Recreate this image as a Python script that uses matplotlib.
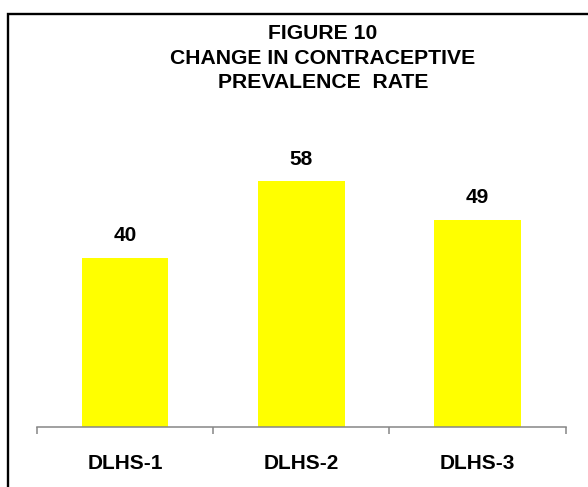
import matplotlib
matplotlib.use("Agg")
import matplotlib.pyplot as plt
from matplotlib.patches import Rectangle

# Chart data
surveys = ["DLHS-1", "DLHS-2", "DLHS-3"]
cpr_values = [40, 58, 49]
title_lines = ["FIGURE 10", "CHANGE IN CONTRACEPTIVE", "PREVALENCE  RATE"]

plt.rcParams["font.family"] = ["Liberation Sans", "DejaVu Sans"]
plt.rcParams["font.weight"] = "bold"

fig = plt.figure(figsize=(5.88, 4.87), dpi=100)
ax = fig.add_axes([0.0624, 0.1226, 0.900, 0.6094])

x = list(range(len(surveys)))
bars = ax.bar(x, cpr_values, width=0.49, color="#FFFF00", edgecolor="none")

ax.set_xlim(-0.5, len(surveys) - 0.5)
ax.set_ylim(0, 70)

# only the bottom axis line is shown
for side in ["left", "right", "top"]:
    ax.spines[side].set_visible(False)
ax.spines["bottom"].set_color("#868686")
ax.spines["bottom"].set_linewidth(1.1)
ax.set_yticks([])

# tick marks between categories, labels at the category centres
ax.set_xticks([i - 0.5 for i in range(len(surveys) + 1)])
ax.set_xticklabels([])
ax.tick_params(axis="x", which="major", length=5, width=1.1, color="#868686")
ax.set_xticks(x, minor=True)
ax.set_xticklabels(surveys, minor=True, fontsize=15, fontweight="bold")
ax.tick_params(axis="x", which="minor", length=0, pad=19.5)

# value labels above bars
for rect, val in zip(bars, cpr_values):
    ax.annotate(str(val), xy=(rect.get_x() + rect.get_width() / 2, rect.get_height()),
                xytext=(0, 12), textcoords="offset points",
                ha="center", va="baseline", fontsize=15, fontweight="bold")

# title, three centred lines
baselines = [39, 64, 88.3]
for line, yb in zip(title_lines, baselines):
    fig.text(323 / 588, 1 - yb / 487, line, ha="center", va="baseline",
             fontsize=15.2, fontweight="bold")

# frame around the chart (cut off on the right and bottom)
frame = Rectangle((7.8 / 588, -0.1), 1.2, 1.1 - 13.7 / 487, transform=fig.transFigure,
                  fill=False, edgecolor="black", linewidth=1.7, clip_on=False)
fig.patches.append(frame)

fig.savefig("out.png", dpi=100)
